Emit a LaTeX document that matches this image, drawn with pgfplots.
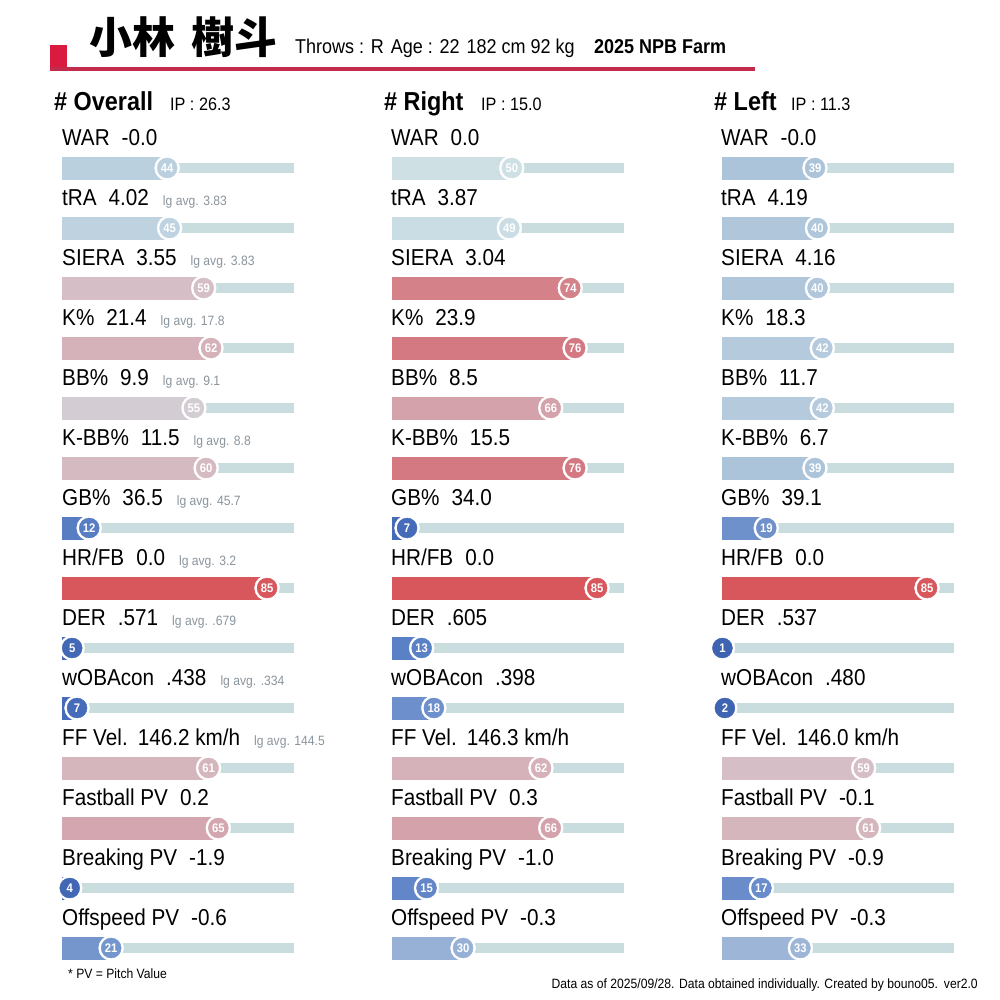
\documentclass[border=0pt]{standalone}
\usepackage{pgfplots}
\pgfplotsset{compat=1.18}
\usepackage{pgfplotstable}
\usepackage{fontspec}
\setmainfont{Liberation Sans}[FakeStretch=0.9]
\newfontfamily\cjk{Noto Sans CJK JP}
\definecolor{titlered}{HTML}{D81B3F}
\definecolor{linered}{HTML}{C22B4B}
\definecolor{bgbar}{HTML}{C9DCDE}
\definecolor{lgcol}{HTML}{8A949C}

% c = column (0 Overall, 1 Right, 2 Left), i = row, p = percentile
\pgfplotstableread{
c i p
0 0 44
0 1 45
0 2 59
0 3 62
0 4 55
0 5 60
0 6 12
0 7 85
0 8 5
0 9 7
0 10 61
0 11 65
0 12 4
0 13 21
1 0 50
1 1 49
1 2 74
1 3 76
1 4 66
1 5 76
1 6 7
1 7 85
1 8 13
1 9 18
1 10 62
1 11 66
1 12 15
1 13 30
2 0 39
2 1 40
2 2 40
2 3 42
2 4 42
2 5 39
2 6 19
2 7 85
2 8 1
2 9 2
2 10 59
2 11 61
2 12 17
2 13 33
}\pcttab

\pgfdeclareplotmark{emptymark}{}

\newcommand\lab[4]{%
  \node[anchor=base west, inner sep=0pt, font=\fontsize{23}{23}\selectfont]
    at ({#1}, {854-60*#2}) {#3\if\relax\detokenize{#4}\relax\else\hspace{14pt}{\fontsize{13.5}{13.5}\selectfont\color{lgcol}lg avg. #4}\fi};}

\begin{document}
\begin{tikzpicture}[x=1pt, y=1pt]
\begin{axis}[at={(0,0)}, anchor=south west, scale only axis,
  width=1000pt, height=1000pt,
  xmin=0, xmax=1000, ymin=0, ymax=1000, y dir=reverse,
  hide axis, clip=false,
  colormap={pct}{
    rgb255(0pt)=(60,98,176)
    rgb255(7pt)=(70,108,185)
    rgb255(13pt)=(90,128,197)
    rgb255(17pt)=(106,140,203)
    rgb255(21pt)=(117,150,204)
    rgb255(30pt)=(150,176,214)
    rgb255(33pt)=(157,181,214)
    rgb255(40pt)=(175,198,219)
    rgb255(45pt)=(190,211,223)
    rgb255(50pt)=(207,224,229)
    rgb255(55pt)=(211,204,211)
    rgb255(60pt)=(213,186,193)
    rgb255(66pt)=(212,162,171)
    rgb255(75pt)=(212,125,133)
    rgb255(85pt)=(216,87,92)
    rgb255(100pt)=(214,50,56)
  },
  point meta min=0, point meta max=100]
\addplot[scatter, only marks, mark=emptymark,
  point meta=explicit,
  scatter/@pre marker code/.code={%
    \begin{scope}
     \pgfkeys{/pgf/fpu=false}%
     \pgfplotscolormapdefinemappedcolor{\pgfplotspointmetatransformed}%
     \pgfmathtruncatemacro\pctv{round(\pgfplotspointmetatransformed/10)}%
     \pgfmathsetmacro\bl{2-2.436*\pctv}%
     \pgfmathsetmacro\br{233-2.436*\pctv}%
     \fill[bgbar] (\bl pt,-4.5pt) rectangle (\br pt,4.5pt);
     \fill[mapped color] (\bl pt,-11pt) rectangle (0pt,11pt);
     \fill[white] (0pt,0pt) circle[radius=12.5pt];
     \fill[mapped color] (0pt,0pt) circle[radius=10pt];
     \node[text=white, font=\bfseries\fontsize{12.5}{12.5}\selectfont, inner sep=0pt] at (0pt,0pt) {\pctv};
    \end{scope}
  },
  scatter/@post marker code/.code={}]
table[x expr={330*\thisrow{c}+60+2.436*\thisrow{p}}, y expr={168+60*\thisrow{i}}, meta=p] {\pcttab};
\end{axis}

% title
\fill[titlered] (50,929) rectangle (67,955);
\fill[linered] (50,929) rectangle (755,932.5);
\node[anchor=base west, inner sep=0pt, font=\cjk\bfseries\fontsize{43}{43}\selectfont] at (89,946) {小林 \hspace{6pt}樹斗};
\node[anchor=base west, inner sep=0pt, font=\fontsize{20}{20}\selectfont] at (295,946) {Throws : R\hspace{7pt}Age : 22\hspace{7pt}182 cm 92 kg};
\node[anchor=base west, inner sep=0pt, font=\bfseries\fontsize{20}{20}\selectfont] at (594,946) {2025 NPB Farm};

% headers
\node[anchor=base west, inner sep=0pt, font=\bfseries\fontsize{26}{26}\selectfont] at (54,889) {\# Overall};
\node[anchor=base west, inner sep=0pt, font=\fontsize{18}{18}\selectfont] at (170,889) {IP : 26.3};
\node[anchor=base west, inner sep=0pt, font=\bfseries\fontsize{26}{26}\selectfont] at (384,889) {\# Right};
\node[anchor=base west, inner sep=0pt, font=\fontsize{18}{18}\selectfont] at (481,889) {IP : 15.0};
\node[anchor=base west, inner sep=0pt, font=\bfseries\fontsize{26}{26}\selectfont] at (714,889) {\# Left};
\node[anchor=base west, inner sep=0pt, font=\fontsize{18}{18}\selectfont] at (791,889) {IP : 11.3};

% Overall labels
\lab{62}{0}{WAR\hspace{12pt}-0.0}{}
\lab{62}{1}{tRA\hspace{12pt}4.02}{3.83}
\lab{62}{2}{SIERA\hspace{12pt}3.55}{3.83}
\lab{62}{3}{K\%\hspace{12pt}21.4}{17.8}
\lab{62}{4}{BB\%\hspace{12pt}9.9}{9.1}
\lab{62}{5}{K-BB\%\hspace{12pt}11.5}{8.8}
\lab{62}{6}{GB\%\hspace{12pt}36.5}{45.7}
\lab{62}{7}{HR/FB\hspace{12pt}0.0}{3.2}
\lab{62}{8}{DER\hspace{12pt}.571}{.679}
\lab{62}{9}{wOBAcon\hspace{12pt}.438}{.334}
\lab{62}{10}{FF Vel.\hspace{10pt}146.2 km/h}{144.5}
\lab{62}{11}{Fastball PV\hspace{12pt}0.2}{}
\lab{62}{12}{Breaking PV\hspace{12pt}-1.9}{}
\lab{62}{13}{Offspeed PV\hspace{12pt}-0.6}{}
% Right labels
\lab{391}{0}{WAR\hspace{12pt}0.0}{}
\lab{391}{1}{tRA\hspace{12pt}3.87}{}
\lab{391}{2}{SIERA\hspace{12pt}3.04}{}
\lab{391}{3}{K\%\hspace{12pt}23.9}{}
\lab{391}{4}{BB\%\hspace{12pt}8.5}{}
\lab{391}{5}{K-BB\%\hspace{12pt}15.5}{}
\lab{391}{6}{GB\%\hspace{12pt}34.0}{}
\lab{391}{7}{HR/FB\hspace{12pt}0.0}{}
\lab{391}{8}{DER\hspace{12pt}.605}{}
\lab{391}{9}{wOBAcon\hspace{12pt}.398}{}
\lab{391}{10}{FF Vel.\hspace{10pt}146.3 km/h}{}
\lab{391}{11}{Fastball PV\hspace{12pt}0.3}{}
\lab{391}{12}{Breaking PV\hspace{12pt}-1.0}{}
\lab{391}{13}{Offspeed PV\hspace{12pt}-0.3}{}
% Left labels
\lab{721}{0}{WAR\hspace{12pt}-0.0}{}
\lab{721}{1}{tRA\hspace{12pt}4.19}{}
\lab{721}{2}{SIERA\hspace{12pt}4.16}{}
\lab{721}{3}{K\%\hspace{12pt}18.3}{}
\lab{721}{4}{BB\%\hspace{12pt}11.7}{}
\lab{721}{5}{K-BB\%\hspace{12pt}6.7}{}
\lab{721}{6}{GB\%\hspace{12pt}39.1}{}
\lab{721}{7}{HR/FB\hspace{12pt}0.0}{}
\lab{721}{8}{DER\hspace{12pt}.537}{}
\lab{721}{9}{wOBAcon\hspace{12pt}.480}{}
\lab{721}{10}{FF Vel.\hspace{10pt}146.0 km/h}{}
\lab{721}{11}{Fastball PV\hspace{12pt}-0.1}{}
\lab{721}{12}{Breaking PV\hspace{12pt}-0.9}{}
\lab{721}{13}{Offspeed PV\hspace{12pt}-0.3}{}

% footers
\node[anchor=base west, inner sep=0pt, font=\fontsize{13.5}{13.5}\selectfont] at (68,21) {* PV = Pitch Value};
\node[anchor=base east, inner sep=0pt, font=\fontsize{13.5}{13.5}\selectfont] at (978,11) {Data as of 2025/09/28. Data obtained individually. Created by bouno05.\hspace{6pt}ver2.0};
\path (0,0) rectangle (1000,1000);
\end{tikzpicture}
\end{document}
